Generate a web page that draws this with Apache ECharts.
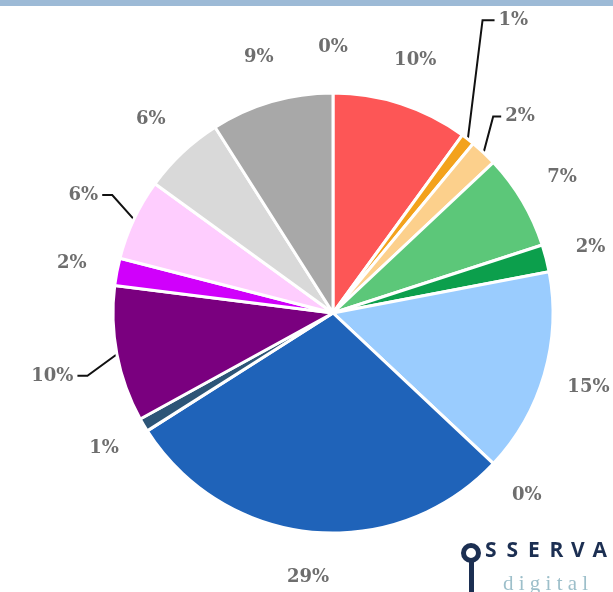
<!DOCTYPE html>
<html>
<head>
<meta charset="utf-8">
<script src="https://cdn.jsdelivr.net/npm/echarts@6/dist/echarts.min.js"></script>
<style>
  html, body { margin: 0; padding: 0; background: #fff; }
  #chart { width: 613px; height: 592px; }
</style>
</head>
<body>
<div id="chart"></div>
<script>
// slices clockwise from 12 o'clock
const categories = ['Cat A', 'Cat B', 'Cat C', 'Cat D', 'Cat E', 'Cat F', 'Cat G', 'Cat H',
  'Cat I', 'Cat J', 'Cat K', 'Cat L', 'Cat M', 'Cat N', 'Cat O']
const values = [0, 10, 1, 2, 7, 2, 15, 0, 29, 1, 10, 2, 6, 6, 9]
const colors = ['#ffffff', '#fd5656', '#f3a21c', '#fcd08c', '#5cc779', '#0c9f4c', '#9accfe', '#ffffff',
  '#1f63b9', '#2d5577', '#7a007f', '#d000fb', '#fecdfe', '#d9d9d9', '#a8a8a8']

// labels drawn with a leader line: index -> [length, length2, vertical shift]
const leader = { 2: [24, 12, -100], 3: [14, 8, -26], 10: [30, 10, 16], 12: [24, 10, -14] }

const labelFont = { color: '#6e6e6e', fontFamily: 'DejaVu Serif', fontWeight: 'bold', fontSize: 18 }
const pct = (p) => Math.round(p.percent) + '%'

// logo in the bottom right corner
const logoWord = 'SSERVA'
const logo = [
  { type: 'circle', shape: { cx: 471, cy: 553, r: 7.5 }, style: { fill: 'none', stroke: '#1c2f52', lineWidth: 5 } },
  { type: 'rect', shape: { x: 469, y: 561, width: 5, height: 31 }, style: { fill: '#1c2f52' } },
  { type: 'text', left: 503, top: 574, style: { text: 'd i g i t a l', fill: '#9dbfca', font: '21px "Liberation Serif"' } }
].concat(logoWord.split('').map((c, i) => ({
  type: 'text', left: 485 + i * 21.5, top: 541, style: { text: c, fill: '#1c2f52', font: 'bold 21px "Open Sans"' }
})))

const chart = echarts.init(document.getElementById('chart'))

chart.setOption({
  animation: false,
  backgroundColor: '#fff',
  graphic: [
    { type: 'rect', left: 0, top: 0, shape: { width: 613, height: 6 }, style: { fill: '#9dbad6' } }
  ].concat(logo),
  series: [
    {
      // the pie itself, with the few labels that need a leader line
      type: 'pie',
      center: [333, 313],
      radius: 220,
      startAngle: 90,
      clockwise: true,
      avoidLabelOverlap: false,
      itemStyle: { borderColor: '#fff', borderWidth: 3 },
      label: Object.assign({ position: 'outer', formatter: pct, distanceToLabelLine: 4, overflow: 'none' }, labelFont),
      labelLine: { lineStyle: { color: '#111', width: 2 } },
      labelLayout: (p) => {
        const l = leader[p.dataIndex]
        if (!l || !p.labelLinePoints) return {}
        const pts = p.labelLinePoints.map((q) => q.slice())
        pts[1][1] += l[2]
        pts[2][1] += l[2]
        return { dy: l[2], labelLinePoints: pts }
      },
      data: values.map((v, i) => ({
        name: categories[i],
        value: v,
        itemStyle: { color: colors[i] },
        label: { show: !!leader[i] },
        labelLine: leader[i] ? { show: true, length: leader[i][0], length2: leader[i][1] } : { show: false }
      }))
    },
    {
      // invisible ring that centres the plain labels along each slice's mid-angle
      type: 'pie',
      center: [333, 313],
      radius: [250, 276],
      startAngle: 90,
      clockwise: true,
      silent: true,
      itemStyle: { color: 'rgba(0,0,0,0)', borderWidth: 0 },
      label: Object.assign({ position: 'inside', formatter: pct }, labelFont),
      labelLine: { show: false },
      data: values.map((v, i) => ({
        name: categories[i],
        value: v,
        label: { show: !leader[i] }
      }))
    }
  ]
})
</script>
</body>
</html>
